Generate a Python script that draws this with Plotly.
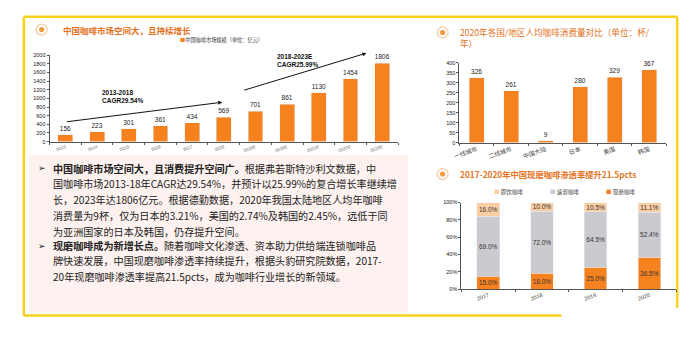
import plotly.graph_objects as go

W, H = 700, 354
def px(x): return x / W
def py(y): return 1 - y / H

# ---------------- data ----------------
market_years = ["2013", "2014", "2015", "2016", "2017", "2018", "2019E", "2020E", "2021E", "2022E", "2023E"]
market_size = [156, 223, 301, 361, 434, 569, 701, 861, 1130, 1454, 1806]
market_name = "中国咖啡市场规模（单位：亿元）"

regions = ["一线城市", "二线城市", "中国大陆", "日本", "美国", "韩国"]
cups = [326, 261, 9, 280, 329, 367]

pen_years = ["2017", "2018", "2019", "2020"]
fresh = [15.0, 18.0, 25.0, 36.5]      # 现磨咖啡
instant = [69.0, 72.0, 64.5, 52.4]    # 速溶咖啡
rtd = [16.0, 10.0, 10.5, 11.1]        # 即饮咖啡

title1 = "中国咖啡市场空间大，且持续增长"
title2a = "2020年各国/地区人均咖啡消费量对比（单位：杯/"
title2b = "年）"
title3 = "2017-2020年中国现磨咖啡渗透率提升21.5pcts"

body_lines = [
    ("➢", "<b>中国咖啡市场空间大，且消费提升空间广。</b>根据弗若斯特沙利文数据，中"),
    ("", "国咖啡市场2013-18年CAGR达29.54%，并预计以25.99%的复合增长率继续增"),
    ("", "长，2023年达1806亿元。根据德勤数据，2020年我国太陆地区人均年咖啡"),
    ("", "消费量为9杯，仅为日本的3.21%，美国的2.74%及韩国的2.45%，远低于同"),
    ("", "为亚洲国家的日本及韩国，仍存提升空间。"),
    ("➢", "<b>现磨咖啡成为新增长点。</b>随着咖啡文化渗透、资本助力供给端连锁咖啡品"),
    ("", "牌快速发展，中国现磨咖啡渗透率持续提升，根据头豹研究院数据，2017-"),
    ("", "20年现磨咖啡渗透率提高21.5pcts，成为咖啡行业增长的新领域。"),
]

ORANGE = "#F5821F"
GRAY = "#CBCBCF"
PEACH = "#FBCDA3"
TITLE_C = "#E2731E"
YELLOW = "#F8D11A"
CJK = "Noto Sans CJK SC"
LAT = "Liberation Sans"

fig = go.Figure()

# chart 1
fig.add_trace(go.Bar(x=market_years, y=market_size, marker_color=ORANGE, width=0.47,
                     text=[str(v) for v in market_size], textposition="outside",
                     textfont=dict(size=5.5, color="#222", family=LAT), cliponaxis=False,
                     name=market_name, xaxis="x", yaxis="y", showlegend=False))
# chart 2
fig.add_trace(go.Bar(x=regions, y=cups, marker_color=ORANGE, width=0.43,
                     text=[str(v) for v in cups], textposition="outside",
                     textfont=dict(size=6, color="#222", family=LAT), cliponaxis=False,
                     xaxis="x2", yaxis="y2", showlegend=False))
# chart 3
for name, vals, col in [("现磨咖啡", fresh, ORANGE), ("速溶咖啡", instant, GRAY), ("即饮咖啡", rtd, PEACH)]:
    fig.add_trace(go.Bar(x=pen_years, y=vals, marker_color=col, width=0.42, name=name,
                         text=[f"{v:.1f}%" for v in vals], textposition="inside",
                         insidetextanchor="middle", textangle=0,
                         textfont=dict(size=6.5, color="#333", family=LAT),
                         xaxis="x3", yaxis="y3", showlegend=False))

axis_common = dict(showline=True, linecolor="#555", linewidth=1, showgrid=False, zeroline=False,
                   ticks="outside", ticklen=2, tickcolor="#555")

fig.update_layout(
    width=W, height=H, margin=dict(l=0, r=0, t=0, b=0),
    paper_bgcolor="white", plot_bgcolor="rgba(0,0,0,0)",
    barmode="stack", showlegend=False,
    uniformtext=dict(mode="show", minsize=6.5),
    xaxis=dict(domain=[px(43), px(395)], anchor="y", type="category", range=[-0.5, 10.5],
               tickangle=-20, tickfont=dict(size=4.5, color="#666", family=LAT),
               tickson="boundaries", **axis_common),
    yaxis=dict(domain=[py(141), py(53)], anchor="x", range=[0, 2000], dtick=200,
               tickfont=dict(size=5.5, color="#222", family=LAT), **axis_common),
    xaxis2=dict(domain=[px(457), px(666)], anchor="y2", type="category", range=[-0.5, 5.5],
                tickangle=-20, tickfont=dict(size=6, color="#444", family=CJK),
                tickson="boundaries", **axis_common),
    yaxis2=dict(domain=[py(142), py(61)], anchor="x2", range=[0, 400], dtick=50,
                tickfont=dict(size=5.5, color="#222", family=LAT), **axis_common),
    xaxis3=dict(domain=[px(459), px(676)], anchor="y3", type="category", range=[-0.5, 3.5],
                tickangle=-20, tickfont=dict(size=5.5, color="#444", family=LAT),
                tickson="boundaries", **axis_common),
    yaxis3=dict(domain=[py(291), py(203)], anchor="x3", range=[0, 100], dtick=20, ticksuffix="%",
                tickfont=dict(size=5.5, color="#222", family=LAT), **axis_common),
)

shapes = []
# yellow frame
for (x0, y0, x1, y1) in [(17, 14, 677, 14), (17, 14, 17, 318), (17, 318, 560, 318), (677, 14, 677, 310)]:
    shapes.append(dict(type="line", xref="paper", yref="paper", x0=px(x0), y0=py(y0), x1=px(x1), y1=py(y1),
                       line=dict(color=YELLOW, width=2.5), layer="below"))
# pink text box
shapes.append(dict(type="rect", xref="paper", yref="paper", x0=px(22), x1=px(405), y0=py(315), y1=py(155),
                   fillcolor="#FDF2EF", line=dict(width=0), layer="below"))
# title icons
for (cx, cy) in [(35, 27), (440, 30), (440, 174)]:
    shapes.append(dict(type="circle", xref="paper", yref="paper", x0=px(cx - 5.5), x1=px(cx + 5.5),
                       y0=py(cy + 5.5), y1=py(cy - 5.5), fillcolor="white",
                       line=dict(color="#FAD2AE", width=1.5)))
    shapes.append(dict(type="circle", xref="paper", yref="paper", x0=px(cx - 2.6), x1=px(cx + 2.6),
                       y0=py(cy + 2.6), y1=py(cy - 2.6), fillcolor="#F39A3C", line=dict(width=0)))

ann = []
def t(x, y, text, size, color="#222", family=CJK, xanchor="left", yanchor="middle", align="left"):
    ann.append(dict(xref="paper", yref="paper", x=px(x), y=py(y), text=text, showarrow=False,
                    font=dict(size=size, color=color, family=family), xanchor=xanchor,
                    yanchor=yanchor, align=align))

t(55, 27, "<b>" + title1 + "</b>", 8.5, TITLE_C)
t(456, 30, title2a, 8.6, TITLE_C)
t(456, 41, title2b, 8.6, TITLE_C)
t(456, 174, "<b>" + title3 + "</b>", 8.3, TITLE_C)

# legends
t(173, 38, f"<span style='color:{ORANGE}'>■</span>" + market_name, 5.2, "#333")
for xx, name, col in [(490, "即饮咖啡", PEACH), (546, "速溶咖啡", GRAY), (603, "现磨咖啡", ORANGE)]:
    t(xx, 192, f"<span style='color:{col}'>■</span> " + name, 5.5, "#444")

# body text
ys = [168, 184, 200, 216, 232, 247, 262, 278]
for (bul, line), yy in zip(body_lines, ys):
    if bul:
        t(29, yy, bul, 9, "#222", "DejaVu Sans")
    t(44, yy, line, 10.1, "#222")

# CAGR annotations (chart 1, data coords)
ann.append(dict(xref="x", yref="y", x=1.1, y=1050, text="<b>2013-2018<br>CAGR29.54%</b>", showarrow=False,
                xanchor="left", yanchor="middle", align="left", font=dict(size=6.5, color="#111", family=LAT)))
ann.append(dict(xref="x", yref="y", x=6.6, y=1870, text="<b>2018-2023E<br>CAGR25.99%</b>", showarrow=False,
                xanchor="left", yanchor="middle", align="left", font=dict(size=6.5, color="#111", family=LAT)))
# arrows
ann.append(dict(xref="x", yref="y", axref="x", ayref="y", x=4.95, y=910, ax=0.0, ay=455, text="",
                showarrow=True, arrowhead=2, arrowsize=0.8, arrowwidth=1, arrowcolor="#111"))
ann.append(dict(xref="x", yref="y", axref="x", ayref="y", x=9.5, y=2045, ax=5.6, ay=1180, text="",
                showarrow=True, arrowhead=2, arrowsize=0.8, arrowwidth=1, arrowcolor="#111"))

fig.update_layout(shapes=shapes, annotations=ann)
fig.write_html("out.html")
